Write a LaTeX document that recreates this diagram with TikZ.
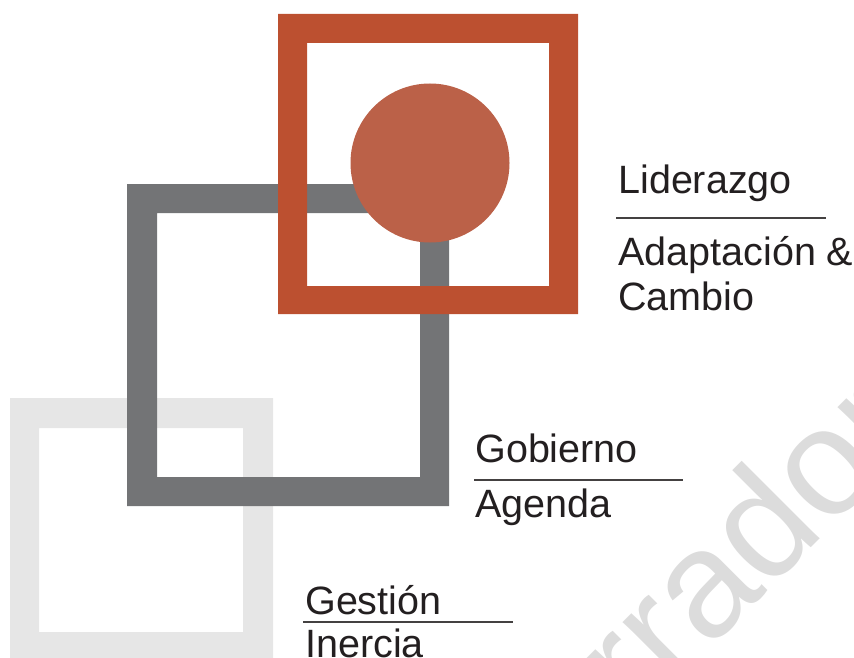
\documentclass[tikz,border=0pt]{standalone}
\usepackage{fontspec}
\setmainfont{Liberation Sans}
\usetikzlibrary{calc}

\definecolor{rojo}{HTML}{BC5030}
\definecolor{rojoclaro}{HTML}{BB6148}
\definecolor{grisoscuro}{HTML}{737476}
\definecolor{grisclaro}{HTML}{E6E6E6}
\definecolor{marca}{HTML}{DCDCDC}
\definecolor{texto}{HTML}{231F20}

\begin{document}
\begin{tikzpicture}[x=0.025cm, y=-0.025cm]
\tikzset{
  etiqueta/.style={inner sep=0pt, anchor=base west, text=texto,
    font=\fontsize{28.1}{32}\selectfont},
  raya/.style={draw=texto!85, line width=1.4pt},
  marcaagua/.style={inner sep=0pt, anchor=base west, text=marca,
    font=\fontsize{108}{110}\selectfont}
}
  \useasboundingbox (0,0) rectangle (854,657);
  \clip (0,0) rectangle (854,657);

  % marca de agua
  \node[marcaagua, rotate=45] (borrador) at (505,854) {Borrador};

  % cuadros
  \coordinate (g1) at (10,398);   \coordinate (g2) at (273,661);
  \coordinate (g3) at (39,428);   \coordinate (g4) at (243,632);
  \coordinate (o1) at (127,184);  \coordinate (o2) at (449,506);
  \coordinate (o3) at (157,213);  \coordinate (o4) at (420,477);
  \coordinate (r1) at (278,14);   \coordinate (r2) at (578,314);
  \coordinate (r3) at (307,43);   \coordinate (r4) at (549,286);

  \fill[grisclaro, even odd rule] (g1) rectangle (g2) (g3) rectangle (g4);
  \fill[grisoscuro, even odd rule] (o1) rectangle (o2) (o3) rectangle (o4);
  \fill[rojo, even odd rule] (r1) rectangle (r2) (r3) rectangle (r4);
  \fill[rojoclaro] (430,163) circle [radius=79.5];

  % textos
  \node[etiqueta] (liderazgo) at (618,193) {Liderazgo};
  \coordinate (l1) at (616,218);
  \coordinate (l2) at (826,218);
  \draw[raya] (l1) -- (l2);
  \node[etiqueta] (adaptacion) at (618,265) {Adaptación \&};
  \node[etiqueta] (cambio) at (618,310) {Cambio};

  \node[etiqueta] (gobierno) at (475,462) {Gobierno};
  \coordinate (b1) at (474,480);
  \coordinate (b2) at (683,480);
  \draw[raya] (b1) -- (b2);
  \node[etiqueta] (agenda) at (475,517) {Agenda};

  \node[etiqueta] (gestion) at (305,614) {Gestión};
  \coordinate (s1) at (303,622);
  \coordinate (s2) at (513,622);
  \draw[raya] (s1) -- (s2);
  \node[etiqueta] (inercia) at (305,657) {Inercia};
\end{tikzpicture}
\end{document}
